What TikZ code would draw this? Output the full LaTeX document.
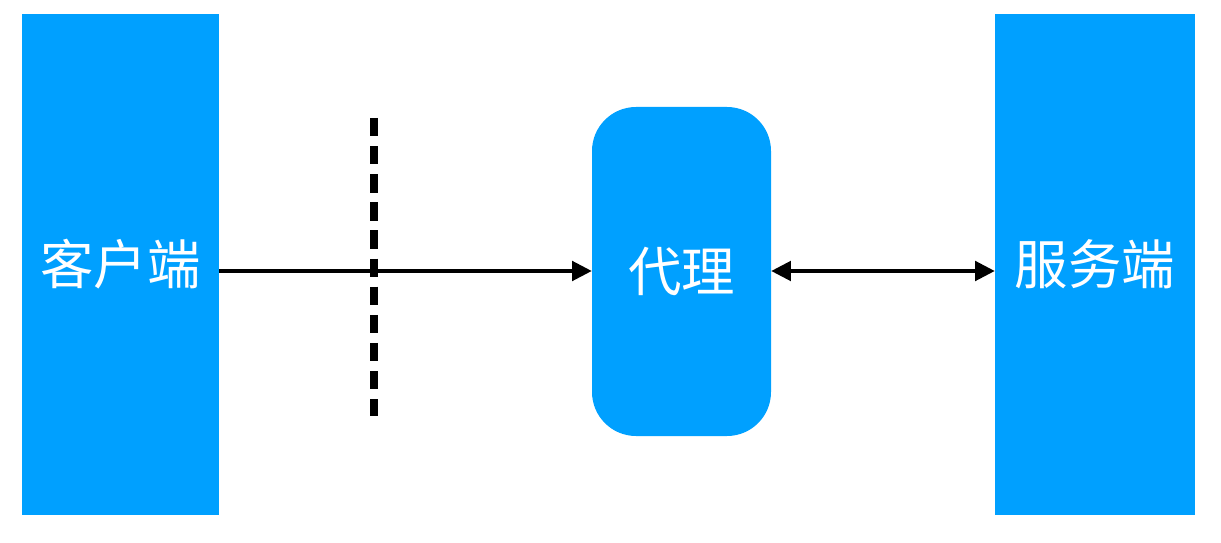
\documentclass[tikz,border=0pt]{standalone}
\usepackage{fontspec}
\newfontfamily\cjk{Noto Sans CJK SC}
\usetikzlibrary{arrows.meta}
\definecolor{bl}{RGB}{0,160,255}
\begin{document}
\begin{tikzpicture}[x=0.025cm,y=-0.025cm,
  box/.style={fill=bl,draw=none,text=white,font=\cjk\fontsize{38}{40}\selectfont,inner sep=0pt},
  conn/.style={line width=2.2pt,-{Triangle[length=14pt,width=14pt]}}]
\useasboundingbox (0,0) rectangle (1221,543);
\node[box,minimum width=197*0.025cm,minimum height=501*0.025cm] (c) at (120.5,264.5) {客户端};
\node[box,minimum width=200*0.025cm,minimum height=501*0.025cm] (s) at (1095,264.5) {服务端};
\node[box,rounded corners=1.1cm,minimum width=179*0.025cm,minimum height=329*0.025cm] (p) at (681.5,271.5) {代理};
\draw[conn] (c.east |- 0,271) -- (p.west |- 0,271);
\draw[conn,{Triangle[length=14pt,width=14pt]}-{Triangle[length=14pt,width=14pt]}] (p.east |- 0,271) -- (s.west |- 0,271);
\draw[line width=6pt,dash pattern=on 13pt off 7pt] (374,118) -- (374,416);
\end{tikzpicture}
\end{document}
